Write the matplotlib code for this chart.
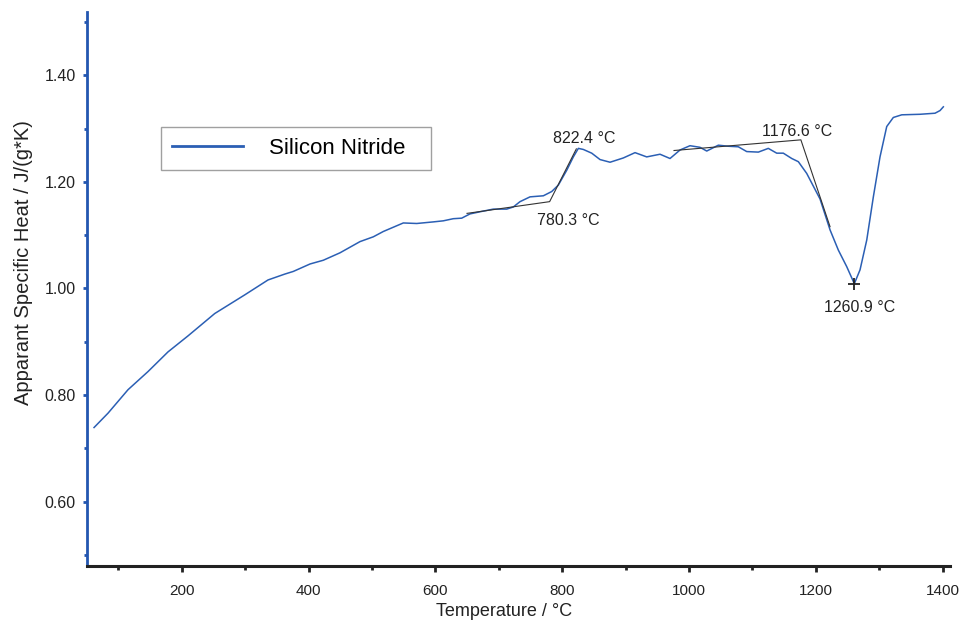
import matplotlib
matplotlib.use("Agg")
import matplotlib.pyplot as plt
from matplotlib.ticker import MultipleLocator, FormatStrFormatter

# measured curve (temperature in degC, apparent cp in J/(g*K))
temp = [61.7, 83.8, 115.3, 146.8, 178.4, 209.9, 252.1, 299.4, 336.1, 362.5,
        376.0, 402.4, 423.3, 449.7, 481.2, 502.2, 518.0, 549.5, 570.7, 596.9,
        612.6, 628.4, 641.6, 654.7, 670.5, 691.5, 712.6, 723.0, 733.6, 749.4,
        770.4, 783.6, 794.0, 807.3, 817.7, 825.6, 833.4, 846.7, 859.8, 875.6,
        896.5, 915.0, 933.4, 954.4, 970.2, 986.0, 1001.7, 1017.5, 1028.1, 1046.4,
        1062.2, 1077.9, 1091.2, 1109.5, 1125.2, 1138.5, 1148.9, 1162.2, 1172.6, 1185.8,
        1206.8, 1222.6, 1235.7, 1248.9, 1260.9, 1269.9, 1280.5, 1290.9, 1301.4, 1312.0,
        1322.4, 1335.7, 1364.5, 1388.2, 1396.1, 1401.3]
cp = [0.739, 0.766, 0.810, 0.844, 0.881, 0.911, 0.953, 0.988, 1.016, 1.027,
      1.032, 1.046, 1.053, 1.067, 1.088, 1.097, 1.107, 1.123, 1.122, 1.125,
      1.127, 1.131, 1.132, 1.140, 1.144, 1.149, 1.149, 1.153, 1.163, 1.172,
      1.174, 1.182, 1.194, 1.222, 1.247, 1.263, 1.261, 1.254, 1.242, 1.237,
      1.245, 1.255, 1.247, 1.252, 1.244, 1.260, 1.268, 1.265, 1.258, 1.269,
      1.267, 1.266, 1.257, 1.256, 1.263, 1.254, 1.254, 1.244, 1.238, 1.216,
      1.168, 1.110, 1.072, 1.041, 1.009, 1.035, 1.091, 1.172, 1.247, 1.304,
      1.321, 1.326, 1.327, 1.329, 1.334, 1.341]

# onset constructions
onset1_x = [650.0, 780.3, 822.4]
onset1_y = [1.141, 1.163, 1.262]
onset2_x = [976.5, 1176.6, 1222.6]
onset2_y = [1.259, 1.279, 1.116]
peak_x = 1260.9
peak_y = 1.009

xticks = [200, 400, 600, 800, 1000, 1200, 1400]
yticks = [0.60, 0.80, 1.00, 1.20, 1.40]

blue = '#2b5fb4'
plt.rcParams['font.family'] = ['Liberation Sans', 'DejaVu Sans']

fig = plt.figure(figsize=(9.59, 6.20), dpi=100)
ax = fig.add_axes([87 / 959, 1 - 565.5 / 620, 863 / 959, 553.5 / 620])

ax.plot(temp, cp, color=blue, lw=1.1, label='Silicon Nitride')
ax.plot(onset1_x, onset1_y, color='#333333', lw=0.8)
ax.plot(onset2_x, onset2_y, color='#333333', lw=0.8)
ax.plot([peak_x], [peak_y], marker='+', color='#222222', ms=9, mew=1.3)

tsize = 11.5
ax.text(834.6, 1.2735, '822.4 °C', fontsize=tsize, ha='center', va='baseline', color='#222222')
ax.text(809.3, 1.119, '780.3 °C', fontsize=tsize, ha='center', va='baseline', color='#222222')
ax.text(1170.8, 1.2867, '1176.6 °C', fontsize=tsize, ha='center', va='baseline', color='#222222')
ax.text(1269.1, 0.955, '1260.9 °C', fontsize=tsize, ha='center', va='baseline', color='#222222')

ax.set_xlim(50.6, 1411.8)
ax.set_ylim(0.48, 1.519)
ax.set_xticks(xticks)
ax.set_yticks(yticks)
ax.xaxis.set_minor_locator(MultipleLocator(100))
ax.yaxis.set_minor_locator(MultipleLocator(0.1))
ax.yaxis.set_major_formatter(FormatStrFormatter('%.2f'))

for s in ['top', 'right']:
    ax.spines[s].set_visible(False)
ax.spines['left'].set_color('#2356b0')
ax.spines['left'].set_linewidth(2)
ax.spines['bottom'].set_color('#222222')
ax.spines['bottom'].set_linewidth(2.2)

ax.tick_params(axis='y', which='both', colors='#2356b0', labelcolor='#222222',
               direction='out', width=2, labelsize=11.5, pad=5)
ax.tick_params(axis='y', which='major', length=3)
ax.tick_params(axis='y', which='minor', length=2.5)
ax.tick_params(axis='x', which='both', colors='#222222', direction='out',
               width=2, labelsize=11, pad=9)
ax.tick_params(axis='x', which='major', length=4)
ax.tick_params(axis='x', which='minor', length=3)

fig.text(504 / 959, 1 - 616 / 620, 'Temperature / °C', fontsize=13,
         ha='center', va='baseline', color='#222222')
fig.text(24 / 959, 1 - 263 / 620, 'Apparant Specific Heat / J/(g*K)', fontsize=14.5,
         ha='center', va='center', rotation=90, color='#222222')

leg = ax.legend(loc='upper left',
                bbox_to_anchor=(161 / 959, 1 - 169 / 620, 270 / 959, 42 / 620),
                bbox_transform=fig.transFigure, mode='expand', borderaxespad=0,
                fancybox=False, framealpha=1, edgecolor='#a0a0a0',
                handlelength=3.2, handletextpad=1.15, borderpad=0.5,
                prop={'size': 16})
leg.get_frame().set_linewidth(1.0)
leg.get_lines()[0].set_linewidth(2)

fig.savefig('out.png', dpi=100)
